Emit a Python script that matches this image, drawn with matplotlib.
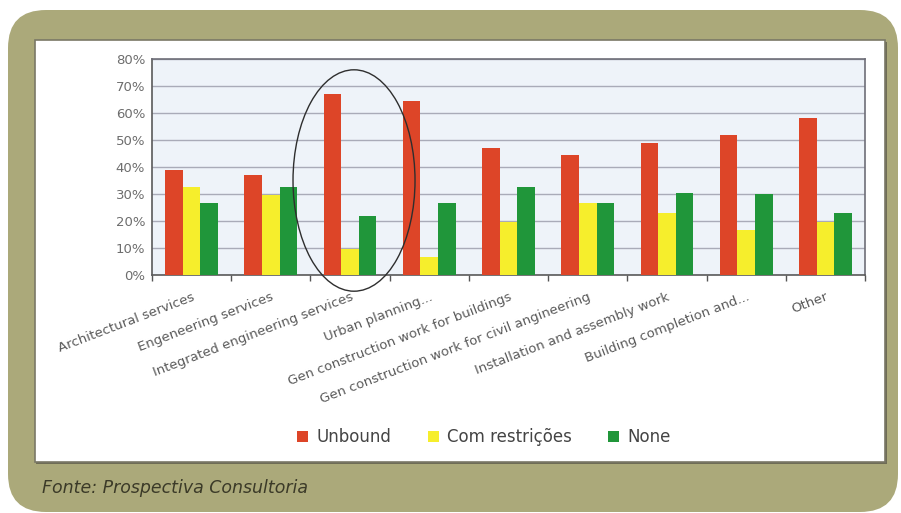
import matplotlib
matplotlib.use("Agg")
import matplotlib.pyplot as plt
import numpy as np
from matplotlib.patches import FancyBboxPatch, Rectangle, Ellipse
from matplotlib.ticker import FuncFormatter, FixedLocator

# ---- data ----
categories = [
    "Architectural services",
    "Engeneering services",
    "Integrated engineering services",
    "Urban planning...",
    "Gen construction work for buildings",
    "Gen construction work for civil angineering",
    "Installation and assembly work",
    "Building completion and...",
    "Other",
]
series_names = ["Unbound", "Com restrições", "None"]
unbound = [39, 37, 67, 64.5, 47, 44.5, 49, 52, 58]
com_restricoes = [32.5, 29.5, 9.5, 6.5, 19.5, 26.5, 23, 16.5, 19.5]
none_vals = [26.5, 32.5, 22, 26.5, 32.5, 26.5, 30.5, 30, 23]
y_ticks = [0, 10, 20, 30, 40, 50, 60, 70, 80]

colors = ["#dd4528", "#f6ee2c", "#20963a"]

W, H = 901, 513
fig = plt.figure(figsize=(W / 100, H / 100), dpi=100)
fig.patch.set_facecolor("white")

# pixel-space canvas for the frame
bg = fig.add_axes([0, 0, 1, 1])
bg.set_xlim(0, W)
bg.set_ylim(H, 0)
bg.axis("off")

frame = FancyBboxPatch((8, 10), 890, 502,
                       boxstyle="round,pad=0,rounding_size=38",
                       facecolor="#aba97a", edgecolor="none")
bg.add_patch(frame)
# shadow under the white panel
bg.add_patch(Rectangle((36, 42), 851, 422, facecolor="#6e6c55", edgecolor="none"))
bg.add_patch(Rectangle((35, 40), 850, 422, facecolor="white",
                       edgecolor="#7a7866", linewidth=1.2))

bg.text(42, 488, "Fonte: Prospectiva Consultoria", fontsize=12.5,
        style="italic", color="#3b3a28", va="center", ha="left")

# ---- chart ----
x0, y0, x1, y1 = 152, 59, 865, 275
ax = fig.add_axes([x0 / W, 1 - y1 / H, (x1 - x0) / W, (y1 - y0) / H])
ax.set_facecolor("#eef3f9")

n = len(categories)
xs = np.arange(n)
bw = 0.222
for i, (vals, c, name) in enumerate(zip([unbound, com_restricoes, none_vals],
                                        colors, series_names)):
    ax.bar(xs + (i - 1) * bw, vals, width=bw, color=c, label=name, zorder=3)

ax.set_xlim(-0.5, n - 0.5)
ax.set_ylim(0, 80)
ax.yaxis.set_major_locator(FixedLocator(y_ticks))
ax.yaxis.set_major_formatter(FuncFormatter(lambda v, p: f"{v:.0f}%"))
ax.grid(axis="y", color="#a9abb8", linewidth=1.0, zorder=1)
ax.tick_params(axis="y", length=0, labelsize=9.5, labelcolor="#6d6d6d", pad=5)

# category boundary ticks
ax.set_xticks(np.arange(n + 1) - 0.5, minor=False)
ax.set_xticklabels([])
ax.tick_params(axis="x", which="major", length=4, direction="out",
               color="#555555", width=1)
ax.set_xticks(xs, minor=True)
ax.set_xticklabels(categories, minor=True, rotation=21, ha="right",
                   rotation_mode="anchor", fontsize=9.5, color="#5a5a5a")
ax.tick_params(axis="x", which="minor", length=0, pad=11)

for s in ["top", "right"]:
    ax.spines[s].set_color("#6e6e78")
    ax.spines[s].set_linewidth(1.2)
for s in ["left", "bottom"]:
    ax.spines[s].set_color("#5a5a5a")
    ax.spines[s].set_linewidth(1.2)

# highlight around the integrated engineering group
ell = Ellipse((2.05, 35), width=1.54, height=82, fill=False,
              edgecolor="#2e2e2e", linewidth=1.0, clip_on=False, zorder=5)
ax.add_patch(ell)

leg = fig.legend(loc="center", bbox_to_anchor=(484 / W, 1 - 437 / H),
                 ncol=3, frameon=False, fontsize=12, handlelength=0.65,
                 handleheight=0.65, handletextpad=0.5, columnspacing=2.2)
for t in leg.get_texts():
    t.set_color("#444444")

fig.savefig("out.png", dpi=100)
